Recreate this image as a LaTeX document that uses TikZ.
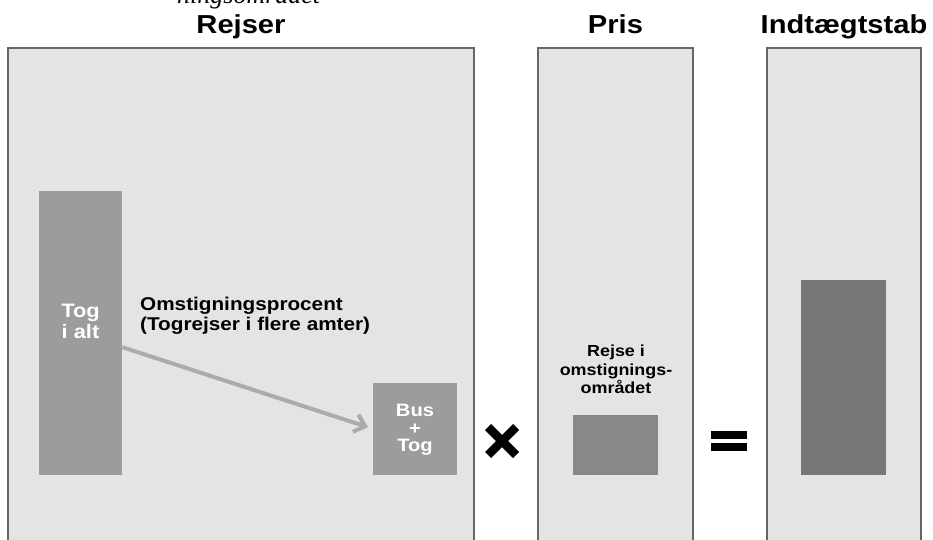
\documentclass[tikz,border=0pt]{standalone}
\usepackage{fontspec}
\newfontfamily\hv[FakeStretch=1.12]{Liberation Sans}
\newfontfamily\tms{Liberation Serif}
\usetikzlibrary{arrows.meta}
\definecolor{panelgray}{HTML}{E4E4E4}
\definecolor{bargray}{HTML}{9C9C9C}
\definecolor{midgray}{HTML}{888888}
\definecolor{lossgray}{HTML}{777777}
\definecolor{arrowgray}{HTML}{ABABAB}

\begin{document}
\begin{tikzpicture}[x=1pt,y=-1pt,
  panel/.style={draw=black!60,line width=1.2pt,fill=panelgray},
  box/.style={inner sep=0pt,anchor=north west},
  title/.style={font=\hv\bfseries\fontsize{26}{30}\selectfont,anchor=base,inner sep=0pt},
  lbl/.style={font=\hv\bfseries\fontsize{18.5}{20}\selectfont,align=left,inner sep=0pt,anchor=north west},
  inbar/.style={font=\hv\bfseries\fontsize{19.5}{21}\selectfont,text=white,align=center,inner sep=0pt,anchor=north}]
\clip (0,0) rectangle (933,540);
\fill [white] (0,0) rectangle (933,540);
% text cut off at the top
\node [font=\tms\itshape\fontsize{26}{30}\selectfont,anchor=base west,inner sep=0pt] (cuttxt) at (177,4) {ningsområdet};
% titles
\node [title] (rejser) at (241,34) {Rejser};
\node [title] (pris) at (615.5,34) {Pris};
\node [title] (tab) at (844,34) {Indtægtstab};
% panels
\draw [panel] (8,48) rectangle (474,550);
\draw [panel] (538,48) rectangle (693,550);
\draw [panel] (767,48) rectangle (921,550);
% Rejser
\node [box,fill=bargray,minimum width=83pt,minimum height=284pt] (togialt) at (39,191) {};
\node [inbar] (togtxt) at (80.5,304) {Tog\\i alt};
\node [box,fill=bargray,minimum width=84pt,minimum height=92pt] (bustog) at (373,383) {};
\node [inbar,font=\hv\bfseries\fontsize{18}{17.5}\selectfont] (bustxt) at (415,404) {Bus\\+\\Tog};
\node [lbl] (omst) at (140,296.5) {Omstigningsprocent\\(Togrejser i flere amter)};
\draw [arrowgray,line width=4pt,-{Straight Barb[length=10pt,width=18pt]}] ([yshift=-14pt]togialt.east) -- ([xshift=-5pt,yshift=2pt]bustog.west);
% gange
\draw [line width=8.5pt] (488,427) -- (516,455);
\draw [line width=8.5pt] (488,455) -- (516,427);
% Pris
\node [lbl,font=\hv\bfseries\fontsize{16}{18.5}\selectfont,align=center,anchor=north] (rejse) at (616,345) {Rejse i\\omstignings-\\området};
\node [box,fill=midgray,minimum width=85pt,minimum height=60pt] (prisbox) at (573,415) {};
% lig med
\fill (711,431) rectangle (747,438.5);
\fill (711,443) rectangle (747,450.5);
% Indtaegtstab
\node [box,fill=lossgray,minimum width=85pt,minimum height=195pt] (tabbar) at (801,280) {};
\end{tikzpicture}
\end{document}
